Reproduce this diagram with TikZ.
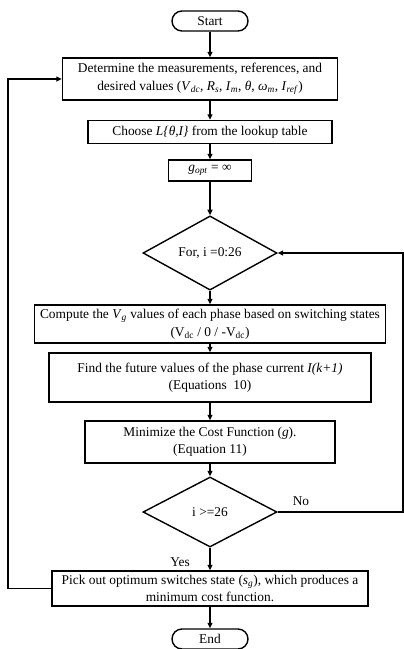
\documentclass[tikz,border=0pt]{standalone}
\usepackage{fontspec}
\setmainfont{Liberation Serif}
\usetikzlibrary{shapes.geometric,arrows.meta}
\newcommand{\sbi}[1]{\textsubscript{\textit{#1}}}
\begin{document}
\begin{tikzpicture}[x=1pt,y=-1pt,
  font=\fontsize{13.4}{17.5}\selectfont,
  line width=1.4pt,
  >={Triangle[length=5.5pt,width=5pt]},
  box/.style={draw, rectangle, inner sep=0pt, align=center},
  term/.style={draw, rectangle, rounded corners=10pt, inner sep=0pt, minimum width=76pt, minimum height=20pt},
  dec/.style={draw, diamond, inner sep=0pt, minimum width=134pt}
]
\useasboundingbox (0,0) rectangle (404,649);
\node[term] (st) at (210,21) {Start};
\node[box, minimum width=275pt, minimum height=42pt] (b1) at (200,79)
  {Determine the measurements, references, and\\desired values (\textit{V}\sbi{dc}, \textit{R}\sbi{s}, \textit{I}\sbi{m}, \textit{θ}, \textit{ω}\sbi{m}, \textit{I}\sbi{ref})};
\node[box, minimum width=244pt, minimum height=23pt] (b2) at (210,132)
  {Choose \textit{L\{θ,I\}} from the lookup table};
\node[box, minimum width=83pt, minimum height=21pt] (g) at (210,170.5)
  {\textit{g}\sbi{opt} = ∞};
\node[dec, minimum height=66pt] (d1) at (210,253) {For, i =0:26};
\node[box, minimum width=351pt, minimum height=38pt] (b3) at (210,324)
  {Compute the \textit{V}\sbi{g} values of each phase based on switching states\\(V\textsubscript{dc} / 0 / -V\textsubscript{dc})};
\node[box, minimum width=322pt, minimum height=49pt] (b4) at (210,377.5)
  {Find the future values of the phase current \textit{I(k+1)}\\(Equations~~10)};
\node[box, minimum width=250pt, minimum height=42pt] (b5) at (210,442)
  {Minimize the Cost Function (\textit{g}).\\(Equation 11)};
\node[dec, minimum height=70pt] (d2) at (210,512) {i >=26};
\node[box, minimum width=316pt, minimum height=35pt] (b6) at (210,588.5)
  {Pick out optimum switches state (\textit{s}\sbi{g}), which produces a\\minimum cost function.};
\node[term] (en) at (210,639) {End};
\node (no) at (301,501) {No};
\node (yes) at (180,562) {Yes};
\coordinate (L) at (8,0);
\coordinate (R) at (403,0);
\draw[->] (st.south) -- (st.south |- b1.north);
\draw[->] (st.south |- b1.south) -- (b2.north);
\draw[->] (b2.south) -- (g.north);
\draw[->] (g.south) -- (d1.north);
\draw[->] (d1.south) -- (b3.north);
\draw[->] (b3.south) -- (b4.north);
\draw[->] (b4.south) -- (b5.north);
\draw[->] (b5.south) -- (d2.north);
\draw[->] (d2.south) -- (b6.north);
\draw[->] (b6.south) -- (en.north);
\draw[->] (b6.west) -- (b6.west -| L) -- (b1.west -| L) -- (b1.west);
\draw[->] (d2.east) -- (d2.east -| R) -- (d1.east -| R) -- (d1.east);
\end{tikzpicture}
\end{document}
